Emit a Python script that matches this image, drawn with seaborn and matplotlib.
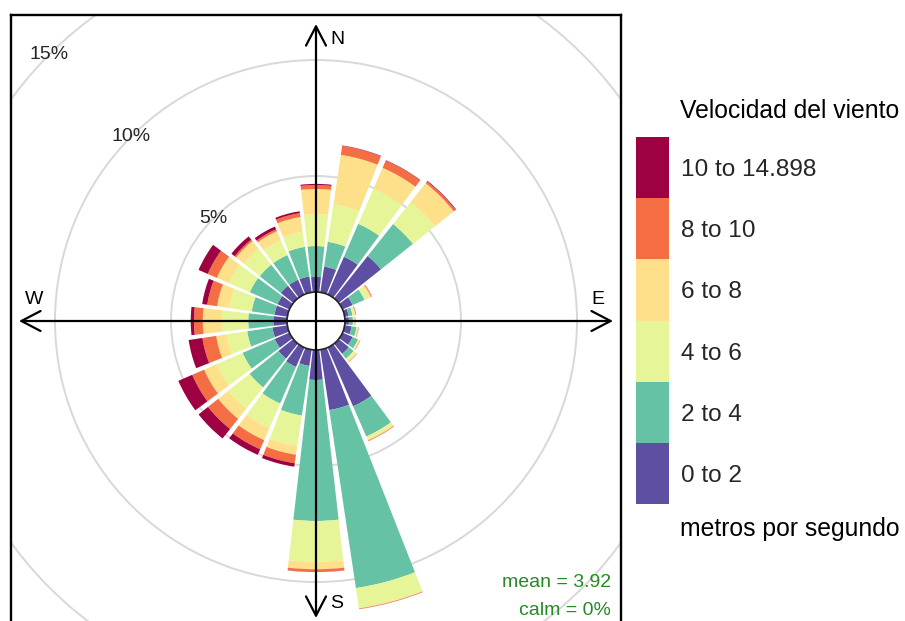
import numpy as np
import matplotlib
matplotlib.use("Agg")
import matplotlib.pyplot as plt
from matplotlib.colors import ListedColormap, BoundaryNorm
from matplotlib.patches import Circle
import seaborn as sns

sns.set_theme(style="white")
plt.rcParams["font.family"] = ["Liberation Sans", "DejaVu Sans"]

# wind direction bins (degrees, 15-degree sectors)
directions = [15, 30, 45, 60, 75, 90, 105, 120, 135, 150, 165, 180,
              195, 210, 225, 240, 255, 270, 285, 300, 315, 330, 345, 360]

# frequency (%) of each speed class per direction
freq_0_2 = [1.12, 1.77, 2.33, 0.47, 0.17, 0.17, 0.30, 0.47, 0.56, 2.76, 2.63, 1.29,
            0.71, 0.91, 0.82, 0.69, 0.65, 0.59, 0.56, 0.56, 0.69, 0.69, 0.69, 0.65]
freq_2_4 = [1.08, 1.55, 1.76, 0.56, 0.17, 0.17, 0.22, 0.26, 0.26, 1.42, 7.76, 6.08,
            2.16, 1.72, 1.59, 1.51, 1.10, 1.08, 0.99, 1.30, 1.16, 1.16, 1.29, 1.33]
freq_4_6 = [1.64, 1.64, 1.21, 0.22, 0.09, 0.05, 0.04, 0.05, 0.13, 0.13, 0.86, 1.76,
            1.34, 1.16, 1.17, 1.21, 0.90, 1.14, 0.99, 0.98, 0.87, 0.69, 0.65, 1.38]
freq_6_8 = [2.15, 0.99, 1.04, 0.09, 0.04, 0.04, 0.04, 0.04, 0.04, 0.06, 0.03, 0.32,
            0.37, 0.56, 0.56, 0.60, 0.45, 0.82, 0.52, 0.57, 0.43, 0.43, 0.65, 1.08]
freq_8_10 = [0.39, 0.34, 0.10, 0.04, 0.03, 0.02, 0.02, 0.02, 0.02, 0.03, 0.03, 0.11,
             0.37, 0.43, 0.56, 0.56, 0.60, 0.38, 0.43, 0.43, 0.08, 0.09, 0.17, 0.17]
freq_10_max = [0.02, 0.02, 0.03, 0.00, 0.00, 0.00, 0.00, 0.00, 0.00, 0.00, 0.00, 0.01,
               0.15, 0.26, 0.52, 0.65, 0.60, 0.14, 0.22, 0.43, 0.18, 0.13, 0.08, 0.05]

speed_labels = ["0 to 2", "2 to 4", "4 to 6", "6 to 8", "8 to 10", "10 to 14.898"]
ring_levels = [5, 10, 15]
mean_speed = 3.92
calm_pct = 0

series = [freq_0_2, freq_2_4, freq_4_6, freq_6_8, freq_8_10, freq_10_max]
colors = sns.color_palette(["#5E4FA2", "#66C2A5", "#E6F598",
                            "#FEE08B", "#F46D43", "#9E0142"])

W, H = 905, 621
fig = plt.figure(figsize=(W / 100, H / 100), dpi=100)
fig.patch.set_facecolor("white")

# geometry in pixels
cx, cy = 316, H - 321          # centre of the rose (from bottom)
R = 440                        # polar axes radius
px_per_pct = 23.2
hole_pct = 29 / px_per_pct

# square panel, centre of the rose at (0, 0), units = pixels
bl, br, bt, bb = 11, 621, 15, 625
panel_rect = [bl / W, (H - bb) / H, (br - bl) / W, (bb - bt) / H]


def panel_axes(z):
    a = fig.add_axes(panel_rect, zorder=z)
    a.set_xlim(bl - 316, br - 316)
    a.set_ylim(321 - bb, 321 - bt)
    a.set_xticks([])
    a.set_yticks([])
    return a


# bottom layer: grid rings, clipped by the square panel
ring_ax = panel_axes(0)
ring_ax.set_facecolor("white")
for sp in ring_ax.spines.values():
    sp.set_visible(False)
for lvl in ring_levels:
    ring_ax.add_patch(Circle((0, 0), (lvl + hole_pct) * px_per_pct, fill=False,
                             edgecolor="#D8D8D8", lw=1.4))

# polar axes holding the stacked bars
ax = fig.add_axes([(cx - R) / W, (cy - R) / H, 2 * R / W, 2 * R / H],
                  projection="polar", zorder=1)
ax.set_theta_zero_location("N")
ax.set_theta_direction(-1)
ax.set_rorigin(-hole_pct)
ax.set_ylim(0, R / px_per_pct - hole_pct)
ax.grid(False)
ax.set_xticks([])
ax.set_yticks([])
ax.spines["polar"].set_visible(False)
ax.patch.set_visible(False)

theta = np.deg2rad(directions)
width = np.deg2rad(13)
bottom = np.zeros(len(directions))
for vals, col in zip(series, colors):
    vals = np.asarray(vals)
    ax.bar(theta, vals, width=width, bottom=bottom, color=col,
           edgecolor="none", linewidth=0, align="center", zorder=2)
    bottom = bottom + vals

for lvl in ring_levels:
    ax.text(np.deg2rad(315), lvl, f"{lvl}%", ha="center", va="center",
            fontsize=14, color="#262626", zorder=3)

# top layer: frame, compass arrows and annotations
box = panel_axes(2)
box.patch.set_visible(False)
for sp in box.spines.values():
    sp.set_visible(True)
    sp.set_color("black")
    sp.set_linewidth(1.7)

L = 297
arrow_kw = dict(arrowstyle="->,head_length=1.15,head_width=0.6",
                lw=1.6, color="black", shrinkA=0, shrinkB=0)
for tip in [(0, L), (0, -L), (L, 0), (-L, 0)]:
    box.annotate("", xy=tip, xytext=(0, 0), arrowprops=arrow_kw)
for lab, pos in [("N", (21, 282)), ("S", (21, -282)),
                 ("E", (282, 21)), ("W", (-282, 21))]:
    box.text(*pos, lab, ha="center", va="center", fontsize=14, color="black")

box.text(295, -266, f"mean = {mean_speed:.2f}", ha="right", va="baseline",
         fontsize=14, color="forestgreen")
box.text(295, -294, f"calm = {calm_pct}%", ha="right", va="baseline",
         fontsize=14, color="forestgreen")

# speed class key
cax = fig.add_axes([636 / W, (H - 504) / H, 33 / W, 367 / H])
cmap = ListedColormap(colors)
norm = BoundaryNorm(np.arange(len(colors) + 1), cmap.N)
cb = fig.colorbar(plt.cm.ScalarMappable(norm=norm, cmap=cmap), cax=cax,
                  ticks=np.arange(len(colors)) + 0.5)
cb.set_ticklabels(speed_labels)
cb.outline.set_visible(False)
cax.minorticks_off()
cax.tick_params(which="both", length=0, pad=8.5, labelsize=17.6)
fig.text(680 / W, (H - 111) / H, "Velocidad del viento", ha="left",
         va="center", fontsize=17.8, color="black")
fig.text(680 / W, (H - 529) / H, "metros por segundo", ha="left",
         va="center", fontsize=17.8, color="black")

fig.savefig("out.png", dpi=100, facecolor="white")
